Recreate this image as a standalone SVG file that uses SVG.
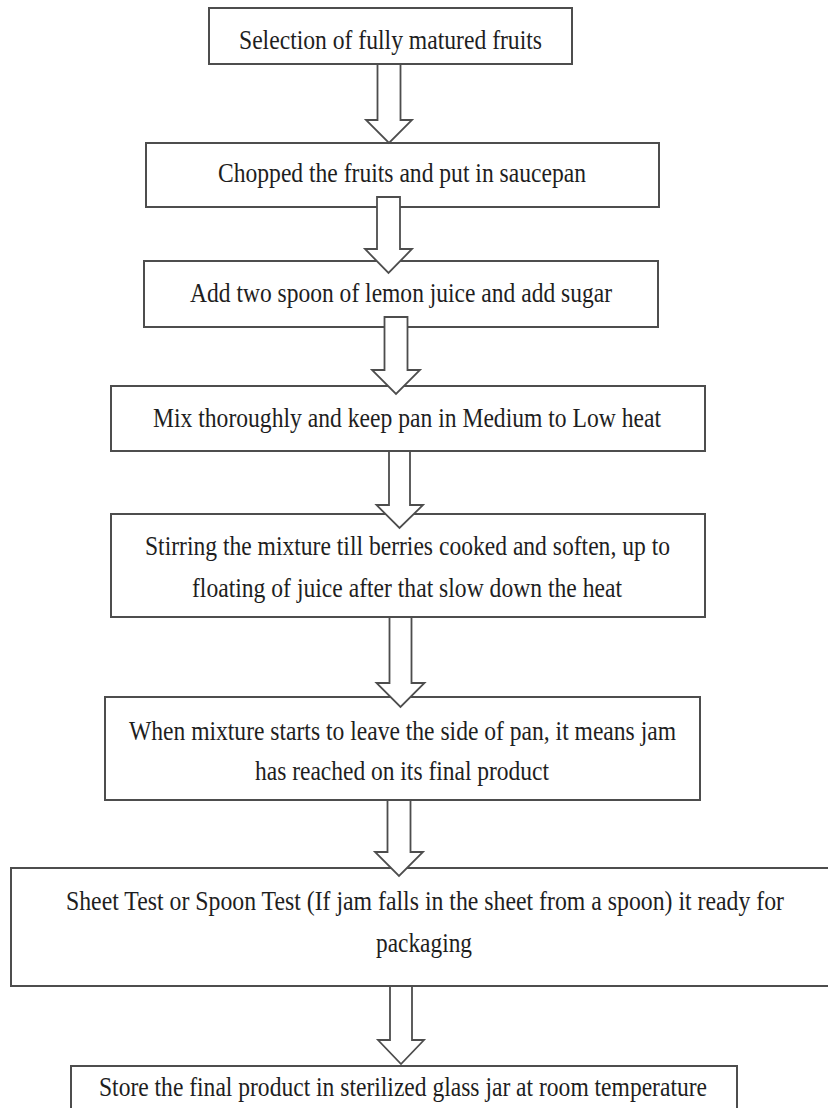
<svg xmlns="http://www.w3.org/2000/svg" width="828" height="1108" viewBox="0 0 828 1108">
  <style>
    .box { fill: #ffffff; stroke: #4d4d4d; stroke-width: 2; }
    .arrow { fill: #ffffff; stroke: #4d4d4d; stroke-width: 1.8; stroke-linejoin: miter; }
    .label { font-family: "Liberation Serif", "Times New Roman", serif; font-size: 28px; fill: #1e1e1e; text-anchor: middle; }
  </style>
  <rect x="0" y="0" width="828" height="1108" fill="#ffffff"/>

  <!-- process steps -->
  <g id="step-select">
    <rect class="box" x="209" y="8" width="363" height="56"/>
    <text class="label" x="390.5" y="49" textLength="303" lengthAdjust="spacingAndGlyphs">Selection of fully matured fruits</text>
  </g>
  <g id="step-chop">
    <rect class="box" x="146" y="143" width="513" height="64"/>
    <text class="label" x="402" y="182" textLength="368" lengthAdjust="spacingAndGlyphs">Chopped the fruits and put in saucepan</text>
  </g>
  <g id="step-lemon-sugar">
    <rect class="box" x="144" y="261" width="514" height="66"/>
    <text class="label" x="401" y="302" textLength="422" lengthAdjust="spacingAndGlyphs">Add two spoon of lemon juice and add sugar</text>
  </g>
  <g id="step-mix-heat">
    <rect class="box" x="111" y="386" width="594" height="65"/>
    <text class="label" x="407" y="427" textLength="508" lengthAdjust="spacingAndGlyphs">Mix thoroughly and keep pan in Medium to Low heat</text>
  </g>
  <g id="step-stir">
    <rect class="box" x="111" y="514" width="594" height="103"/>
    <text class="label" x="407.5" y="555" textLength="525" lengthAdjust="spacingAndGlyphs">Stirring the mixture till berries cooked and soften, up to</text>
    <text class="label" x="407" y="597" textLength="430" lengthAdjust="spacingAndGlyphs">floating of juice after that slow down the heat</text>
  </g>
  <g id="step-leave-pan">
    <rect class="box" x="105" y="697" width="595" height="103"/>
    <text class="label" x="402.5" y="740" textLength="547" lengthAdjust="spacingAndGlyphs">When mixture starts to leave the side of pan, it means jam</text>
    <text class="label" x="402" y="780" textLength="294" lengthAdjust="spacingAndGlyphs">has reached on its final product</text>
  </g>
  <g id="step-sheet-test">
    <rect class="box" x="11" y="868" width="830" height="118"/>
    <text class="label" x="425" y="910" textLength="718" lengthAdjust="spacingAndGlyphs">Sheet Test or Spoon Test (If jam falls in the sheet from a spoon) it ready for</text>
    <text class="label" x="424" y="952" textLength="96" lengthAdjust="spacingAndGlyphs">packaging</text>
  </g>
  <g id="step-store">
    <rect class="box" x="71" y="1066" width="666" height="60"/>
    <text class="label" x="403" y="1096" textLength="608" lengthAdjust="spacingAndGlyphs">Store the final product in sterilized glass jar at room temperature</text>
  </g>

  <!-- block arrows between steps -->
  <g id="connectors">
    <polygon class="arrow" points="377.5,64 400.5,64 400.5,120 412,120 389,143 366,120 377.5,120"/>
    <polygon class="arrow" points="377,197 400,197 400,249 412,249 388.5,273 365,249 377,249"/>
    <polygon class="arrow" points="384.5,317 407.5,317 407.5,370 420,370 396,394 372,370 384.5,370"/>
    <polygon class="arrow" points="389,451 410,451 410,505 423,505 399.5,528 376.5,505 389,505"/>
    <polygon class="arrow" points="389.5,617 411.5,617 411.5,683 424.5,683 400.5,707 376.5,683 389.5,683"/>
    <polygon class="arrow" points="387.5,800 410.5,800 410.5,852 423,852 399,876 375,852 387.5,852"/>
    <polygon class="arrow" points="390,986 412,986 412,1040 424,1040 401,1064 378,1040 390,1040"/>
  </g>
</svg>
